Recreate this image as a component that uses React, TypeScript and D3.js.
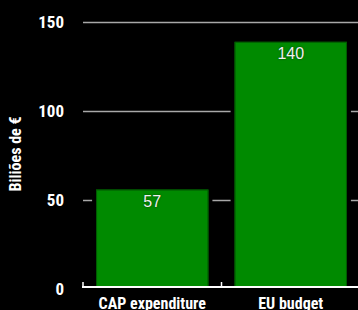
import React, { useEffect, useRef } from 'react';
import * as d3 from 'd3';

const categories = ['CAP expenditure', 'EU budget'];
const values = [57, 140];
const yTicks = [0, 50, 100, 150];
const yLabel = 'Biliões de €';

const W = 358;
const H = 310;

export default function App() {
  const svgRef = useRef<SVGSVGElement | null>(null);

  useEffect(() => {
    const svg = d3.select(svgRef.current);
    svg.selectAll('*').remove();

    const left = 83;
    const right = W;
    const font = '"Liberation Sans Narrow", "Roboto Condensed", "Arial Narrow", sans-serif';

    const x = d3.scaleBand<string>()
      .domain(categories)
      .range([left, right + 2])
      .paddingInner(0.16)
      .paddingOuter(0.08);

    const y = d3.scaleLinear().domain([0, 150]).range([289, 22]);

    svg.append('rect').attr('width', W).attr('height', H).attr('fill', '#000');

    // gridlines
    svg.append('g')
      .selectAll('line')
      .data(yTicks.filter(d => d > 0))
      .enter()
      .append('line')
      .attr('x1', left)
      .attr('x2', right)
      .attr('y1', d => Math.round(y(d)) + 0.5)
      .attr('y2', d => Math.round(y(d)) + 0.5)
      .attr('stroke', '#a8a8a8')
      .attr('stroke-width', 1.5);

    // tick labels
    svg.append('g')
      .selectAll('text')
      .data(yTicks)
      .enter()
      .append('text')
      .attr('x', 64)
      .attr('y', d => y(d))
      .attr('dy', '0.36em')
      .attr('text-anchor', 'end')
      .attr('fill', '#fff')
      .attr('font-family', font)
      .attr('font-weight', 'bold')
      .attr('font-size', 17)
      .text(d => d);

    // y axis title
    svg.append('text')
      .attr('transform', `translate(21,154) rotate(-90)`)
      .attr('text-anchor', 'middle')
      .attr('fill', '#fff')
      .attr('font-family', font)
      .attr('font-weight', 'bold')
      .attr('font-size', 16)
      .text(yLabel);

    // bars: black outline hides gridlines near the bars
    const bars = svg.append('g');
    bars.selectAll('rect')
      .data(values)
      .enter()
      .append('rect')
      .attr('x', (d, i) => x(categories[i])!)
      .attr('width', x.bandwidth())
      .attr('y', d => y(d))
      .attr('height', d => y(0) - y(d))
      .attr('fill', '#008a00')
      .attr('stroke', '#000')
      .attr('stroke-width', 4);

    bars.selectAll('rect.edge')
      .data(values)
      .enter()
      .append('rect')
      .attr('class', 'edge')
      .attr('x', (d, i) => x(categories[i])! + 2.5)
      .attr('width', x.bandwidth() - 5)
      .attr('y', d => y(d) + 2.5)
      .attr('height', d => y(0) - y(d) - 5)
      .attr('fill', 'none')
      .attr('stroke', '#005a00')
      .attr('stroke-width', 1);

    // value labels
    svg.append('g')
      .selectAll('text')
      .data(values)
      .enter()
      .append('text')
      .attr('x', (d, i) => x(categories[i])! + x.bandwidth() / 2)
      .attr('y', d => y(d) + 19)
      .attr('text-anchor', 'middle')
      .attr('fill', '#f0f0f0')
      .attr('font-family', '"Liberation Sans", Arial, sans-serif')
      .attr('font-size', 16)
      .style('text-shadow', '0 0 2px rgba(0,0,0,0.6)')
      .text(d => d);

    // bottom axis
    const axisY = 287;
    svg.append('line')
      .attr('x1', left - 1)
      .attr('x2', right)
      .attr('y1', axisY)
      .attr('y2', axisY)
      .attr('stroke', '#fff')
      .attr('stroke-width', 2);

    const boundaries = [left, x(categories[1])! - (x.step() - x.bandwidth()) / 2];
    svg.append('g')
      .selectAll('line')
      .data(boundaries)
      .enter()
      .append('line')
      .attr('x1', d => d)
      .attr('x2', d => d)
      .attr('y1', axisY)
      .attr('y2', axisY - 5)
      .attr('stroke', '#fff')
      .attr('stroke-width', 1.5);

    svg.append('g')
      .selectAll('text')
      .data(categories)
      .enter()
      .append('text')
      .attr('x', d => x(d)! + x.bandwidth() / 2)
      .attr('y', 309)
      .attr('text-anchor', 'middle')
      .attr('fill', '#fff')
      .attr('font-family', font)
      .attr('font-weight', 'bold')
      .attr('font-size', 16)
      .text(d => d);
  }, []);

  return (
    <svg
      ref={svgRef}
      width={W}
      height={H}
      style={{ position: 'fixed', left: 0, top: 0, display: 'block' }}
    />
  );
}
